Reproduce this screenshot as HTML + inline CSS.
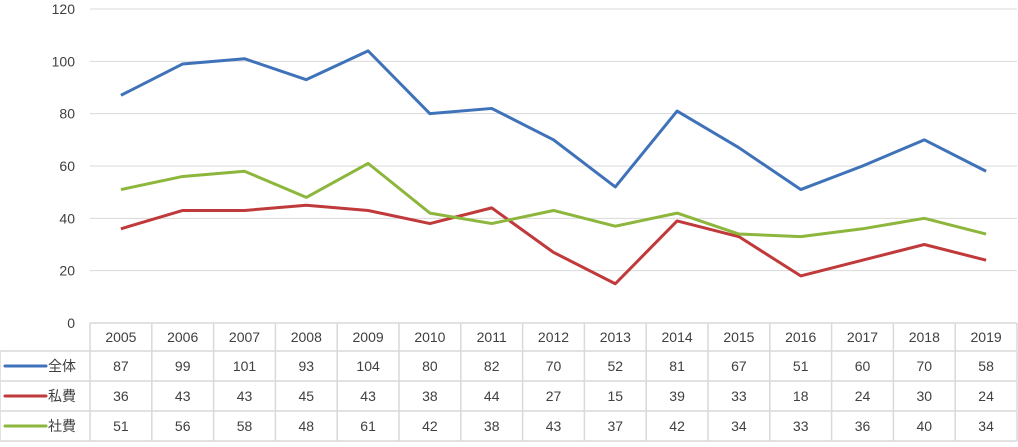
<!DOCTYPE html>
<html><head><meta charset="utf-8"><style>
body{margin:0;background:#fff;width:1018px;height:442px;overflow:hidden;font-family:"Liberation Sans","Noto Sans CJK JP",sans-serif}
svg text{fill:#404040;font-size:14px}
</style></head><body>
<svg width="1018" height="442" id="c"></svg>
<script>
const years=["2005","2006","2007","2008","2009","2010","2011","2012","2013","2014","2015","2016","2017","2018","2019"];
const total=[87,99,101,93,104,80,82,70,52,81,67,51,60,70,58];
const priv=[36,43,43,45,43,38,44,27,15,39,33,18,24,30,24];
const pub=[51,56,58,48,61,42,38,43,37,42,34,33,36,40,34];
const yTicks=[0,20,40,60,80,100,120];
const seriesNames=["全体","私費","社費"];
const colors=["#3f72b8","#c0393b","#8db63c"];
const svg=document.getElementById('c');const NS="http://www.w3.org/2000/svg";
const L=90,R=1017,cw=(R-L)/years.length;
const y=v=>323-v*(314/120);const x=i=>L+cw*(i+0.5);
function el(t,a,p){const e=document.createElementNS(NS,t);for(const k in a)e.setAttribute(k,a[k]);(p||svg).appendChild(e);return e;}
yTicks.forEach(t=>{
 if(t>0){const g=el('line',{x1:L,x2:R,y1:y(t),y2:y(t),stroke:'#d9d9d9','stroke-width':1});
 
 }
 const tx=el('text',{x:75,y:y(t)+5,'text-anchor':'end'});tx.textContent=t;
 
 
});
// table
const rows=[323,351,381,411,441];
const tg=el('g',{stroke:'#d9d9d9','stroke-width':1.5});


el('line',{x1:L,x2:R,y1:323,y2:323},tg);
for(let r=1;r<rows.length;r++)el('line',{x1:0,x2:R,y1:rows[r],y2:rows[r]},tg);
for(let i=0;i<=years.length;i++)el('line',{x1:L+cw*i,x2:L+cw*i,y1:323,y2:441},tg);
el('line',{x1:0,x2:0,y1:351,y2:441},tg);
years.forEach((yr,i)=>{const t=el('text',{x:x(i),y:342,'text-anchor':'middle'});t.textContent=yr;
 
 });
[total,priv,pub].forEach((arr,s)=>{
 const cy=(rows[s+1]+rows[s+2])/2+5;
 const lk=el('line',{x1:5,x2:46,y1:cy-5,y2:cy-5,stroke:colors[s],'stroke-width':3,'stroke-linecap':'round'});
 
 
 const ln=el('text',{x:48,y:cy,'font-size':'15'});ln.textContent=seriesNames[s];
 
 
 arr.forEach((v,i)=>{const t=el('text',{x:x(i),y:cy,'text-anchor':'middle'});t.textContent=v;
  
  });
 const p=el('polyline',{points:arr.map((v,i)=>x(i)+','+y(v)).join(' '),fill:'none',stroke:colors[s],'stroke-width':3,'stroke-linejoin':'round'});
 
 
});
</script>
</body></html>
